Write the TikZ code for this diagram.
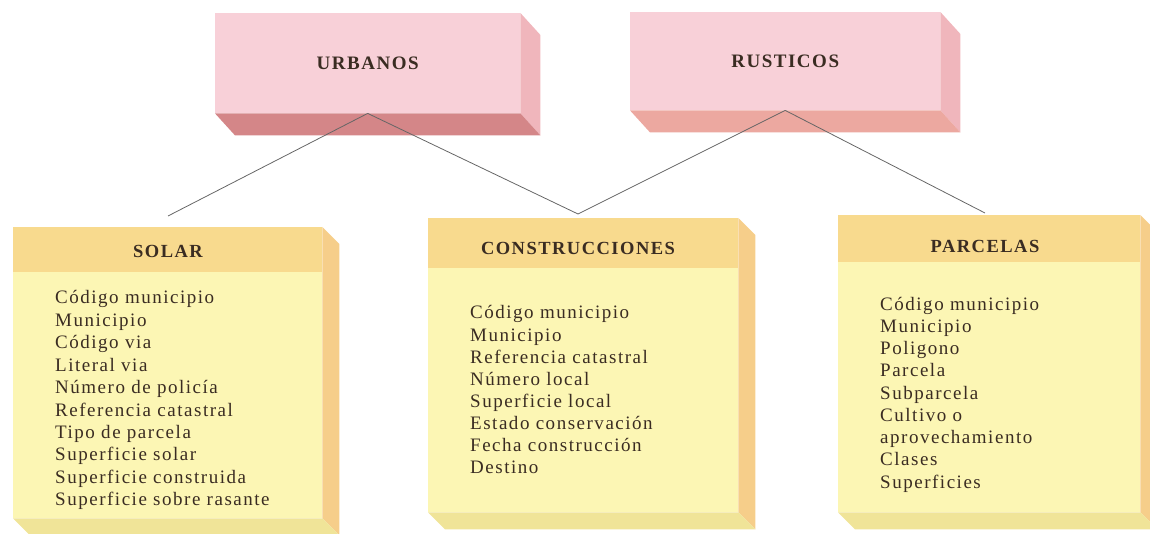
\documentclass[tikz,border=0pt]{standalone}
\usepackage{fontspec}
\setmainfont{Liberation Serif}
\newfontfamily\cardfont[LetterSpace=8]{Liberation Serif}
\definecolor{rosa}{RGB}{248,208,216}
\definecolor{rosalado}{RGB}{240,182,188}
\definecolor{urbfondo}{RGB}{212,134,136}
\definecolor{rusfondo}{RGB}{236,168,160}
\definecolor{crema}{RGB}{252,246,180}
\definecolor{cabecera}{RGB}{248,218,142}
\definecolor{cremalado}{RGB}{246,206,138}
\definecolor{cremafondo}{RGB}{240,228,152}
\definecolor{tinta}{RGB}{58,44,34}
\begin{document}
\begin{tikzpicture}
		[x=1pt,y=-1pt,%
		  face/.style={shape=rectangle,inner sep=0pt,anchor=north west,draw=none},
		  pinkface/.style={face,fill=rosa,text=tinta,font=\cardfont\bfseries\fontsize{19}{20}\selectfont},
		  cardface/.style={face,fill=crema},
		  title/.style={inner sep=0pt,text=tinta,font=\cardfont\bfseries\fontsize{18.5}{20}\selectfont},
		  item/.style={inner sep=0pt,anchor=base west,text=tinta,font=\cardfont\fontsize{19}{20}\selectfont},
		  link/.style={draw=black!60,line width=0.8pt}]
		\useasboundingbox (0,0) rectangle (1150,534);
		\clip (0,0) rectangle (1150,534);
		% top blocks
		\node[pinkface,minimum width=305pt,minimum height=100pt] (urb) at (215,13) {URBANOS};
		\node[pinkface,minimum width=310pt,minimum height=98pt] (rus) at (630,12) {RUSTICOS};
		\foreach \b/\f in {urb/urbfondo,rus/rusfondo}{
			\fill[rosalado] (\b.north east) -- ([shift={(20,22)}]\b.north east)
			  -- ([shift={(20,22)}]\b.south east) -- (\b.south east) -- cycle;
			\fill[\f] (\b.south west) -- (\b.south east) -- ([shift={(20,22)}]\b.south east)
			  -- ([shift={(20,22)}]\b.south west) -- cycle;
		}
		% cards
		\node[cardface,minimum width=309pt,minimum height=291pt] (sol) at (13,227) {};
		\node[cardface,minimum width=310pt,minimum height=294pt] (con) at (428,218) {};
		\node[cardface,minimum width=302pt,minimum height=297pt] (par) at (838,215) {};
		\foreach \b/\h in {sol/45,con/50,par/47}{
			\fill[cabecera] (\b.north west) rectangle ([shift={(0,\h)}]\b.north east);
			\fill[cremalado] (\b.north east) -- ([shift={(17,17)}]\b.north east)
			  -- ([shift={(17,17)}]\b.south east) -- (\b.south east) -- cycle;
			\fill[cremafondo] (\b.south west) -- (\b.south east) -- ([shift={(17,17)}]\b.south east)
			  -- ([shift={(17,17)}]\b.south west) -- cycle;
		}
		\node[title] (sol-t) at (168,251) {SOLAR};
		\node[title] (con-t) at (578,248) {CONSTRUCCIONES};
		\node[title] (par-t) at (985,246) {PARCELAS};
		\foreach \t [count=\i from 0] in {Código municipio,Municipio,Código via,Literal via,
		  Número de policía,Referencia catastral,Tipo de parcela,Superficie solar,
		  Superficie construida,Superficie sobre rasante}
			\node[item] (sol-\i) at (55,304+22.4*\i) {\t};
		\foreach \t [count=\i from 0] in {Código municipio,Municipio,Referencia catastral,
		  Número local,Superficie local,Estado conservación,Fecha construcción,Destino}
			\node[item] (con-\i) at (470,319+22*\i) {\t};
		\foreach \t [count=\i from 0] in {Código municipio,Municipio,Poligono,Parcela,
		  Subparcela,Cultivo o,aprovechamiento,Clases,Superficies}
			\node[item] (par-\i) at (880,310+22.25*\i) {\t};
		% links
		\coordinate (sol-in) at (168,216);
		\coordinate (con-in) at (578,214);
		\coordinate (par-in) at (985,213);
		\draw[link] (urb.south) -- (sol-in);
		\draw[link] (urb.south) -- (con-in);
		\draw[link] (rus.south) -- (con-in);
		\draw[link] (rus.south) -- (par-in);
\end{tikzpicture}
\end{document}
